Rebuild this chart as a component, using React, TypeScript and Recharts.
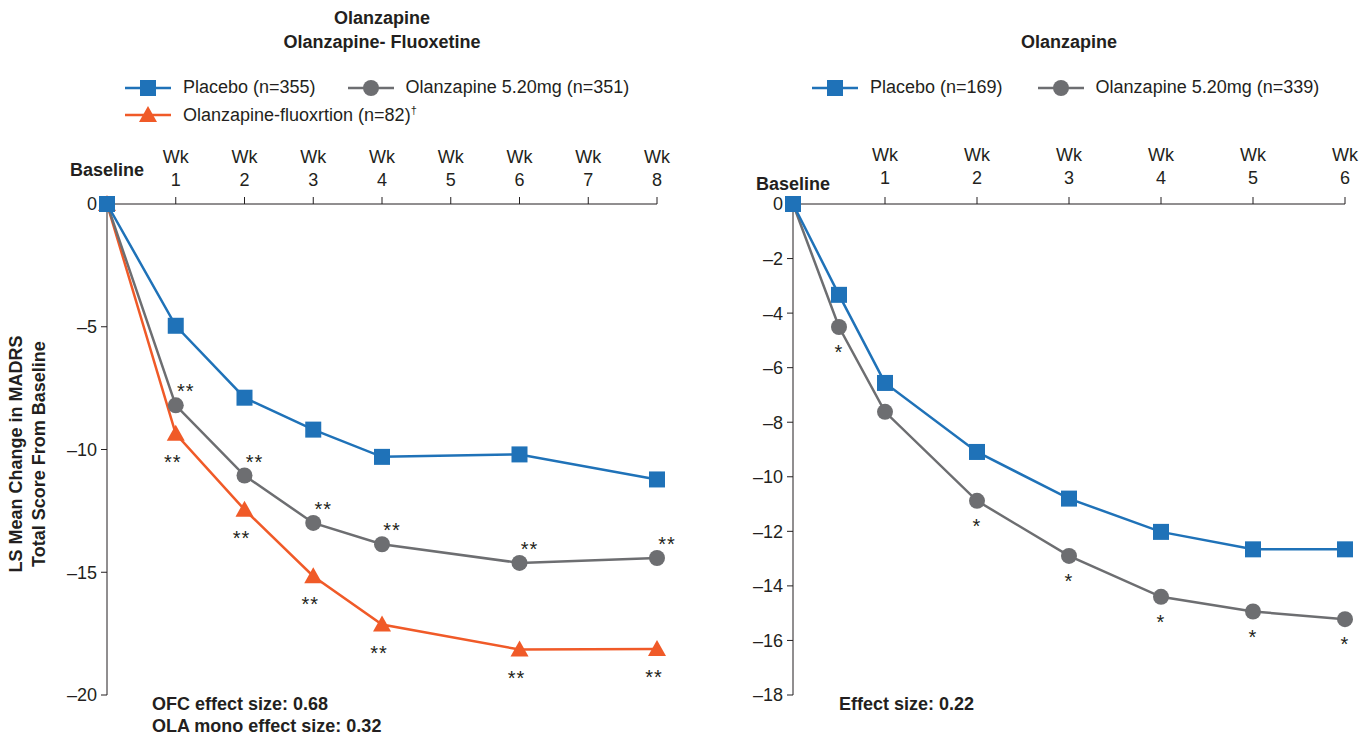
import React from 'react';
import { LineChart, Line, XAxis, YAxis, Legend, LabelList } from 'recharts';

const FONT = '"Liberation Sans", Arial, Helvetica, sans-serif';
const BLUE = '#1f72b8';
const GREY = '#6d6e71';
const ORANGE = '#f05a28';
const INK = '#231f20';

// Left panel: olanzapine and olanzapine-fluoxetine trial (8 weeks)
const leftWeeks = [0, 1, 2, 3, 4, 6, 8];
const leftPlacebo = [0, -4.96, -7.89, -9.19, -10.3, -10.2, -11.22];
const leftOlanzapine = [0, -8.2, -11.06, -12.99, -13.86, -14.62, -14.42];
const leftOfc = [0, -9.36, -12.45, -15.16, -17.13, -18.15, -18.13];
const leftOlaStars = ['', '**', '**', '**', '**', '**', '**'];
const leftOfcStars = ['', '**', '**', '**', '**', '**', '**'];
const leftTicksX = [0, 1, 2, 3, 4, 5, 6, 7, 8];
const leftTicksY = [0, -5, -10, -15, -20];

// Right panel: olanzapine monotherapy (6 weeks, extra day-4 visit)
const rightWeeks = [0, 0.5, 1, 2, 3, 4, 5, 6];
const rightPlacebo = [0, -3.33, -6.56, -9.09, -10.8, -12.02, -12.66, -12.66];
const rightOlanzapine = [0, -4.51, -7.62, -10.88, -12.9, -14.4, -14.94, -15.22];
const rightOlaStars = ['', '*', '', '*', '*', '*', '*', '*'];
const rightTicksX = [0, 1, 2, 3, 4, 5, 6];
const rightTicksY = [0, -2, -4, -6, -8, -10, -12, -14, -16, -18];

const leftData = leftWeeks.map((w, i) => ({
  week: w,
  placebo: leftPlacebo[i],
  olanzapine: leftOlanzapine[i],
  ofc: leftOfc[i],
  olaStar: leftOlaStars[i],
  ofcStar: leftOfcStars[i],
}));

const rightData = rightWeeks.map((w, i) => ({
  week: w,
  placebo: rightPlacebo[i],
  olanzapine: rightOlanzapine[i],
  olaStar: rightOlaStars[i],
}));

const shapes: Record<string, string> = { placebo: 'square', olanzapine: 'circle', ofc: 'triangle' };
const legendOrder = ['placebo', 'olanzapine', 'ofc'];

const Marker = ({ shape, cx, cy, color }: any) => {
  if (cx == null || cy == null) return null;
  if (shape === 'square') return <rect x={cx - 8} y={cy - 8} width={16} height={16} fill={color} />;
  if (shape === 'circle') return <circle cx={cx} cy={cy} r={8} fill={color} />;
  return <polygon points={`${cx},${cy - 9} ${cx + 9},${cy + 7} ${cx - 9},${cy + 7}`} fill={color} />;
};

const dotFor = (shape: string, color: string) => (p: any) => (
  <Marker key={`d-${shape}-${p.index}`} shape={shape} cx={p.cx} cy={p.cy} color={color} />
);

// significance stars next to each point
const starLabel = (dx: number, dy: number) => (props: any) => {
  const { x, y, value } = props;
  if (!value) return null;
  return (
    <text x={x + dx} y={y + dy} textAnchor="middle" fontSize={20} fill={INK} letterSpacing={1}>
      {value}
    </text>
  );
};

const weekTick = (baseDy: number, wkDy: number, numDy: number) => (props: any) => {
  const { x, y, payload } = props;
  if (payload.value === 0) {
    return (
      <text x={x} y={y + baseDy} textAnchor="middle" fontSize={18} fontWeight="bold" fill={INK}>
        Baseline
      </text>
    );
  }
  return (
    <g>
      <text x={x} y={y + wkDy} textAnchor="middle" fontSize={18} fill={INK}>Wk</text>
      <text x={x} y={y + numDy} textAnchor="middle" fontSize={18} fill={INK}>{payload.value}</text>
    </g>
  );
};

const renderLegend = (width: number, gap: number) => (props: any) => {
  const items = [...(props.payload || [])].sort(
    (a: any, b: any) => legendOrder.indexOf(a.dataKey) - legendOrder.indexOf(b.dataKey)
  );
  return (
    <div style={{ display: 'flex', flexWrap: 'wrap', width, columnGap: gap, fontFamily: FONT }}>
      {items.map((it: any) => {
        const name: string = it.value;
        const dagger = name.endsWith('†');
        return (
          <div key={it.dataKey} style={{ display: 'flex', alignItems: 'center', height: 27 }}>
            <svg width={46} height={20}>
              <line x1={0} y1={10} x2={46} y2={10} stroke={it.color} strokeWidth={2.5} />
              <Marker shape={shapes[it.dataKey]} cx={23} cy={10} color={it.color} />
            </svg>
            <span style={{ marginLeft: 12, fontSize: 18, color: INK }}>
              {dagger ? name.slice(0, -1) : name}
              {dagger && <sup style={{ fontSize: 11 }}>†</sup>}
            </span>
          </div>
        );
      })}
    </div>
  );
};

const yFmt = (v: number) => (v < 0 ? `\u2013${-v}` : `${v}`);

const abs = (left: number, top: number, extra: React.CSSProperties = {}): React.CSSProperties => ({
  position: 'absolute',
  left,
  top,
  ...extra,
});

const bold18: React.CSSProperties = { fontSize: 18, fontWeight: 'bold', color: INK, whiteSpace: 'nowrap' };

export default function App() {
  return (
    <div style={{ position: 'absolute', left: 0, top: 0, width: 1370, height: 736, background: '#fff', fontFamily: FONT }}>
      {/* panel titles */}
      <div style={abs(182, 6, { ...bold18, width: 400, textAlign: 'center', lineHeight: '24px' })}>
        Olanzapine
        <br />
        Olanzapine- Fluoxetine
      </div>
      <div style={abs(869, 30, { ...bold18, width: 400, textAlign: 'center', lineHeight: '24px' })}>Olanzapine</div>

      {/* y axis title */}
      <div
        style={abs(-172, 431, {
          ...bold18,
          width: 400,
          textAlign: 'center',
          lineHeight: '23px',
          transform: 'rotate(-90deg)',
        })}
      >
        LS Mean Change in MADRS
        <br />
        Total Score From Baseline
      </div>

      <div style={abs(0, 0)}>
        <LineChart width={700} height={736} data={leftData} margin={{ top: 144, right: 43, bottom: 41, left: 47 }}>
          <XAxis
            dataKey="week"
            type="number"
            orientation="top"
            domain={[0, 8]}
            ticks={leftTicksX}
            interval={0}
            height={60}
            tickSize={7}
            tickMargin={2}
            stroke={INK}
            tick={weekTick(-19, -32, -9)}
          />
          <YAxis
            type="number"
            domain={[-20, 0]}
            ticks={leftTicksY}
            interval={0}
            width={60}
            tickSize={6}
            tickMargin={4}
            stroke={INK}
            tickFormatter={yFmt}
            tick={{ fill: INK, fontSize: 18 }}
          />
          <Legend
            layout="horizontal"
            verticalAlign="middle"
            align="center"
            wrapperStyle={{ left: 125, top: 74 }}
            content={renderLegend(540, 32)}
          />
          <Line
            dataKey="ofc"
            name="Olanzapine-fluoxrtion (n=82)†"
            stroke={ORANGE}
            strokeWidth={2.5}
            dot={dotFor('triangle', ORANGE)}
            isAnimationActive={false}
          >
            <LabelList dataKey="ofcStar" content={starLabel(-3, 35)} />
          </Line>
          <Line
            dataKey="olanzapine"
            name="Olanzapine 5.20mg (n=351)"
            stroke={GREY}
            strokeWidth={2.5}
            dot={dotFor('circle', GREY)}
            isAnimationActive={false}
          >
            <LabelList dataKey="olaStar" content={starLabel(10, -7)} />
          </Line>
          <Line
            dataKey="placebo"
            name="Placebo (n=355)"
            stroke={BLUE}
            strokeWidth={2.5}
            dot={dotFor('square', BLUE)}
            isAnimationActive={false}
          />
        </LineChart>
      </div>

      <div style={abs(690, 0)}>
        <LineChart width={680} height={736} data={rightData} margin={{ top: 144, right: 25, bottom: 41, left: 43 }}>
          <XAxis
            dataKey="week"
            type="number"
            orientation="top"
            domain={[0, 6]}
            ticks={rightTicksX}
            interval={0}
            height={60}
            tickSize={7}
            tickMargin={2}
            stroke={INK}
            tick={weekTick(-5, -34, -11)}
          />
          <YAxis
            type="number"
            domain={[-18, 0]}
            ticks={rightTicksY}
            interval={0}
            width={60}
            tickSize={6}
            tickMargin={4}
            stroke={INK}
            tickFormatter={yFmt}
            tick={{ fill: INK, fontSize: 18 }}
          />
          <Legend
            layout="horizontal"
            verticalAlign="middle"
            align="center"
            wrapperStyle={{ left: 122, top: 74 }}
            content={renderLegend(560, 35)}
          />
          <Line
            dataKey="olanzapine"
            name="Olanzapine 5.20mg (n=339)"
            stroke={GREY}
            strokeWidth={2.5}
            dot={dotFor('circle', GREY)}
            isAnimationActive={false}
          >
            <LabelList dataKey="olaStar" content={starLabel(0, 32)} />
          </Line>
          <Line
            dataKey="placebo"
            name="Placebo (n=169)"
            stroke={BLUE}
            strokeWidth={2.5}
            dot={dotFor('square', BLUE)}
            isAnimationActive={false}
          />
        </LineChart>
      </div>

      {/* effect sizes */}
      <div style={abs(152, 693, { ...bold18, lineHeight: '22px' })}>
        OFC effect size: 0.68
        <br />
        OLA mono effect size: 0.32
      </div>
      <div style={abs(839, 693, { ...bold18, lineHeight: '22px' })}>Effect size: 0.22</div>
    </div>
  );
}
